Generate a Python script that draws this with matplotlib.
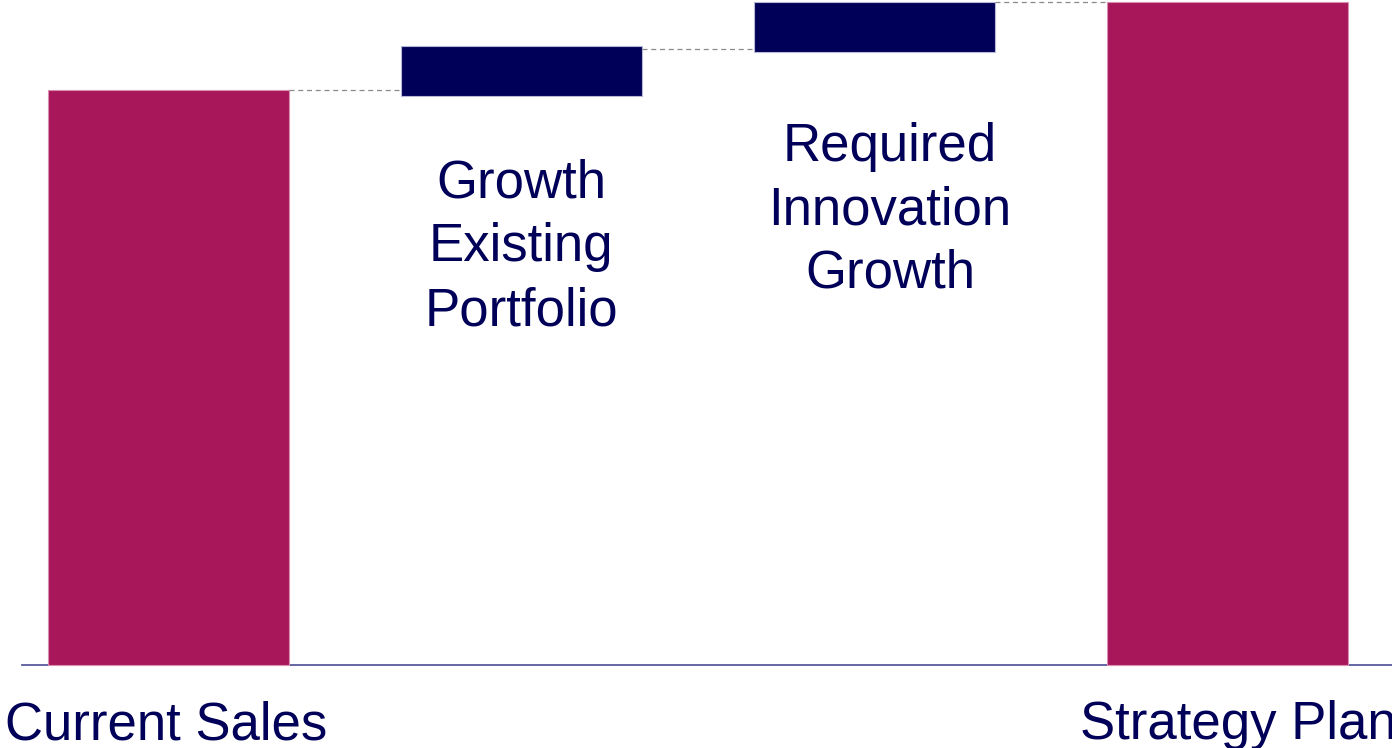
import matplotlib
matplotlib.use("Agg")
import matplotlib.pyplot as plt

# waterfall: totals and floating steps (plan = 100)
categories = ["Current Sales", "Growth\nExisting\nPortfolio",
              "Required\nInnovation\nGrowth", "Strategy Plan"]
bar_bottoms = [0.0, 85.8, 92.5, 0.0]
bar_tops = [86.7, 93.4, 100.0, 100.0]
connector_levels = [86.7, 92.9, 100.0]

MAGENTA = "#A8175A"
NAVY = "#000058"
colors = [MAGENTA, NAVY, NAVY, MAGENTA]
edges = ["#d88fb0", "#b8b8d8", "#b8b8d8", "#d88fb0"]

W, H = 1392, 748
BAR_W = 0.683

fig = plt.figure(figsize=(W / 100, H / 100), dpi=100)
ax = fig.add_axes([0, 0, 1, 1])

x = list(range(len(categories)))
heights = [t - b for t, b in zip(bar_tops, bar_bottoms)]
ax.bar(x, heights, bottom=bar_bottoms, width=BAR_W, color=colors,
       edgecolor=edges, linewidth=0.8, zorder=2)

# dashed connectors between neighbouring bars
for i, lvl in enumerate(connector_levels):
    ax.plot([i + BAR_W / 2, i + 1 - BAR_W / 2], [lvl, lvl],
            color="#8a8a8a", lw=0.9, ls=(0, (4, 3)), zorder=3)

ax.axhline(0, xmin=22 / W, xmax=1, color="#4b4b95", lw=1.2, zorder=1)

px_per_unit = 663 / 100
x0 = -168.5 / 353
ax.set_xlim(x0, x0 + W / 353)
ax.set_ylim(-83 / px_per_unit, 100 + 2 / px_per_unit)
ax.axis("off")

font = dict(family="Liberation Sans", fontsize=38, color=NAVY)
ax.text(166.5 / W, 1 - 739 / H, categories[0], transform=ax.transAxes,
        ha="center", va="baseline", **font)
# multi-line labels: baseline refers to the last line
ax.text(521 / W, 1 - 325 / H, categories[1], transform=ax.transAxes,
        ha="center", va="baseline", multialignment="center",
        linespacing=1.35, **font)
ax.text(890 / W, 1 - 288 / H, categories[2], transform=ax.transAxes,
        ha="center", va="baseline", multialignment="center",
        linespacing=1.35, **font)
ax.text(1080 / W, 1 - 739 / H, categories[3], transform=ax.transAxes,
        ha="left", va="baseline", **font)

fig.savefig("out.png", dpi=100)
